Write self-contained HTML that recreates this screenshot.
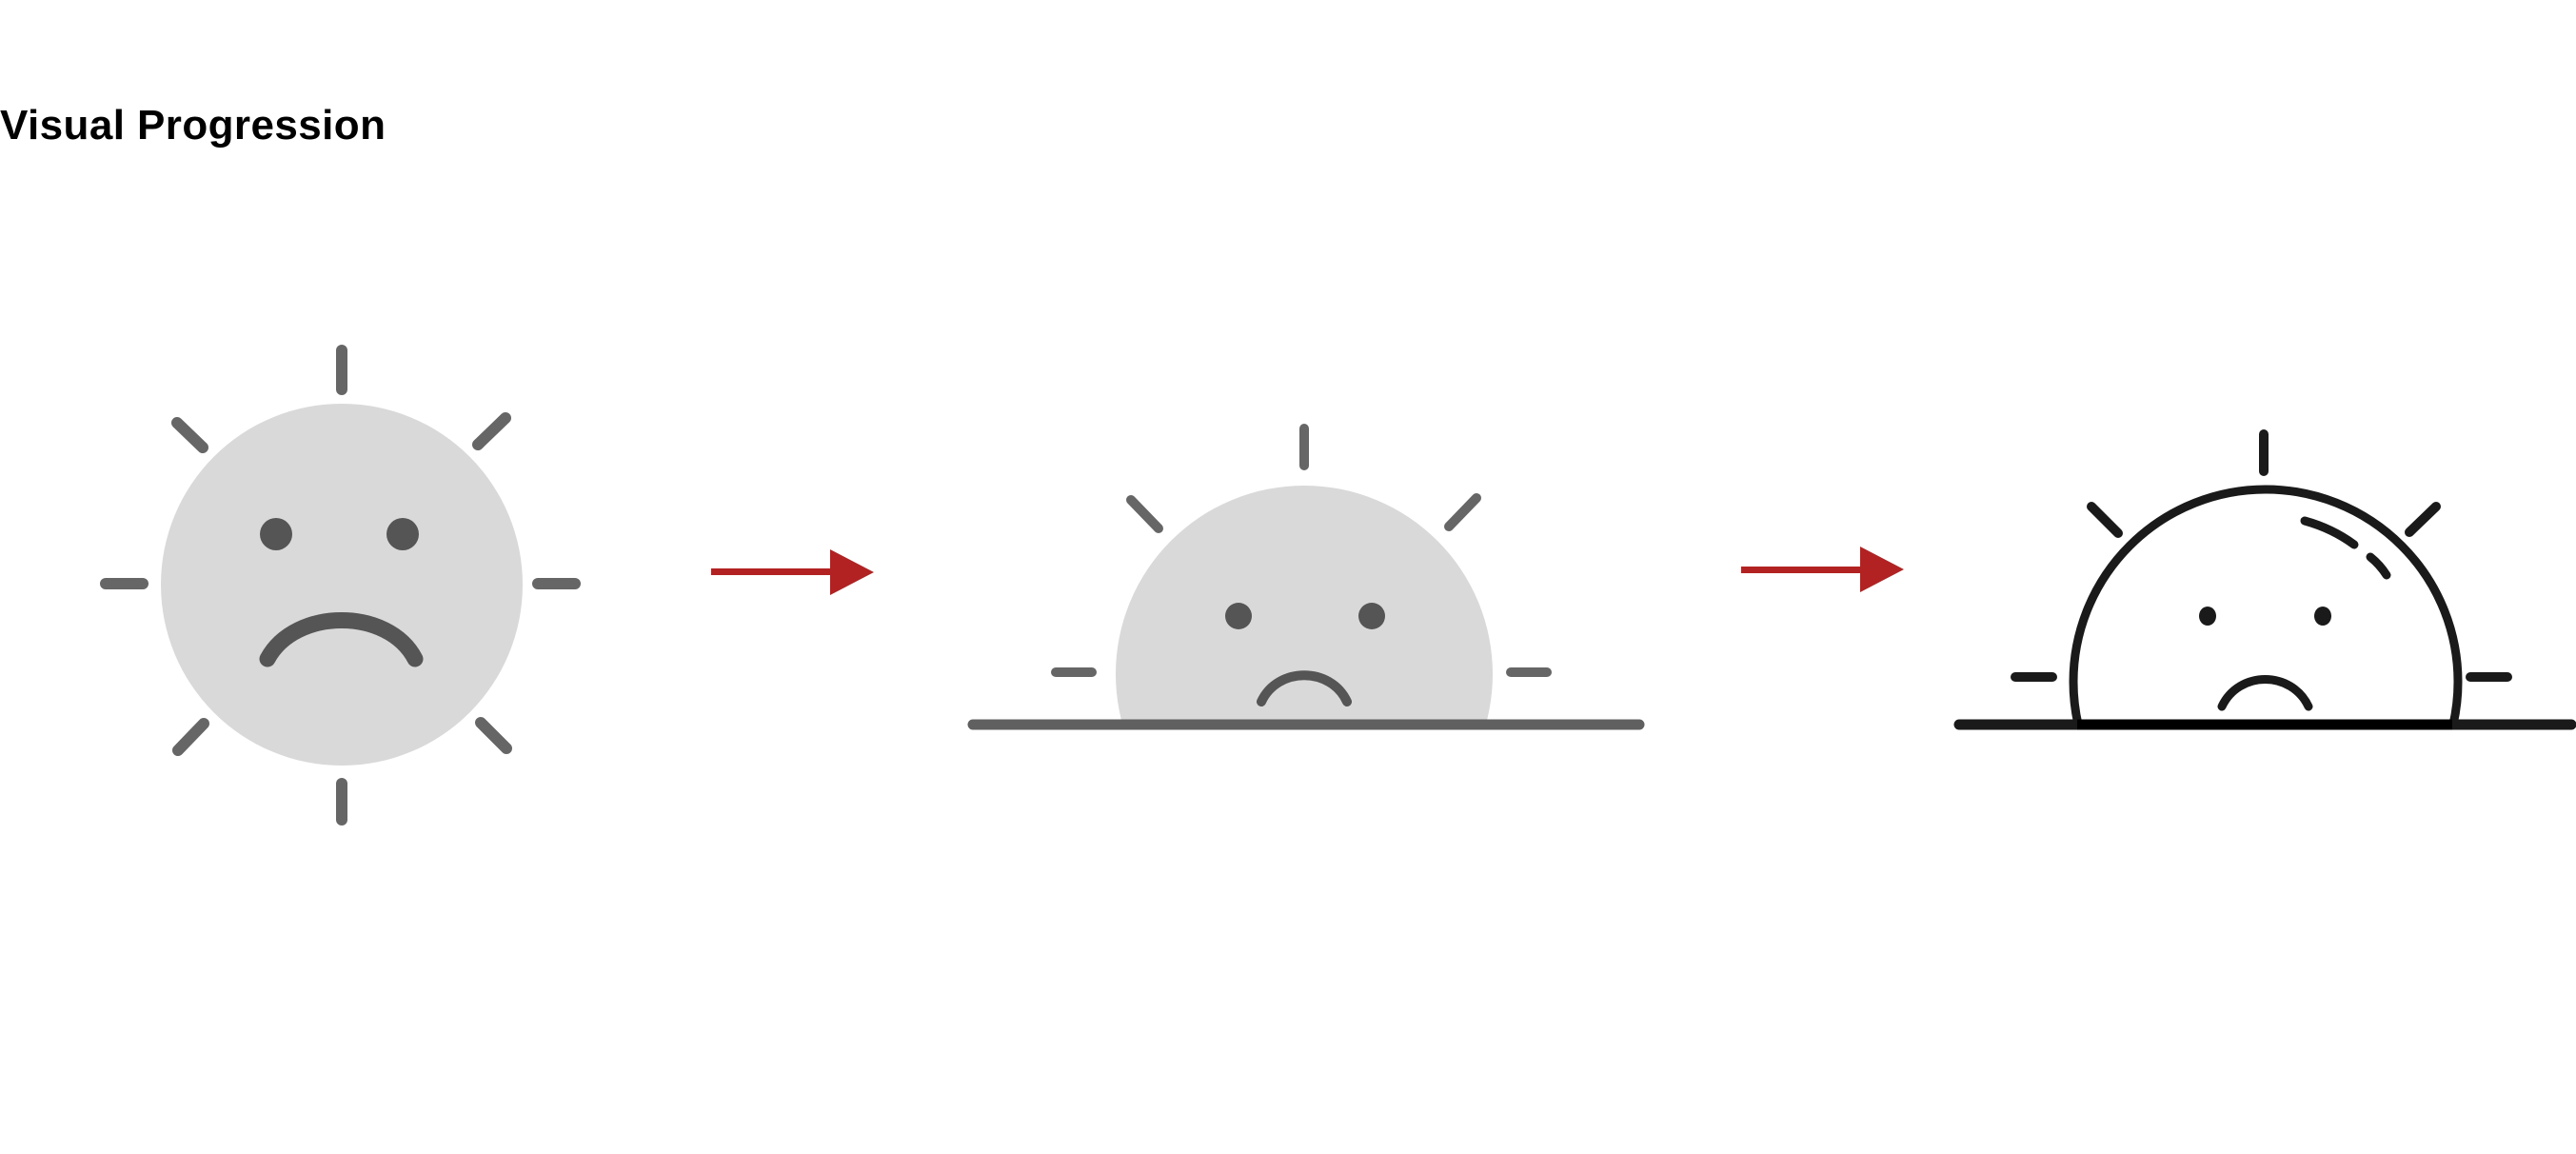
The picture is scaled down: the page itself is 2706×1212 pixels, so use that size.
<!DOCTYPE html>
<html><head><meta charset="utf-8"><style>
html,body{margin:0;padding:0;background:#fff;width:2706px;height:1212px;overflow:hidden}
svg{display:block}
</style></head><body>
<svg width="2706" height="1212" viewBox="0 0 2706 1212">
<text x="0" y="146" font-family="Liberation Sans, sans-serif" font-weight="bold" font-size="44" textLength="405" fill="#000">Visual Progression</text>

<g stroke-linecap="round">
  <circle cx="359" cy="614" r="190" fill="#d9d9d9"/>
  <g stroke="#666" stroke-width="12">
    <line x1="359" y1="368" x2="359" y2="409"/>
    <line x1="359" y1="823" x2="359" y2="861"/>
    <line x1="111" y1="613" x2="150" y2="613"/>
    <line x1="565" y1="613" x2="604" y2="613"/>
    <line x1="186" y1="444" x2="213" y2="470"/>
    <line x1="531" y1="439" x2="502" y2="467"/>
    <line x1="187" y1="788" x2="214" y2="760"/>
    <line x1="505" y1="759" x2="532" y2="786"/>
  </g>
  <circle cx="290" cy="561" r="17" fill="#555"/>
  <circle cx="423" cy="561" r="17" fill="#555"/>
  <path d="M281 692 C310 638, 408 638, 436 692" fill="none" stroke="#555" stroke-width="17"/>
</g>

<g>
  <rect x="747" y="597" width="128" height="7" fill="#b22222"/>
  <polygon points="872,577 918,601 872,625" fill="#b22222"/>
</g>

<g stroke-linecap="round">
  <clipPath id="c2"><rect x="0" y="0" width="2706" height="761"/></clipPath>
  <circle cx="1370" cy="708" r="198" fill="#d9d9d9" clip-path="url(#c2)"/>
  <g stroke="#666" stroke-width="10">
    <line x1="1370" y1="450" x2="1370" y2="489"/>
    <line x1="1188" y1="525" x2="1217" y2="555"/>
    <line x1="1551" y1="523" x2="1522" y2="553"/>
    <line x1="1109" y1="706" x2="1147" y2="706"/>
    <line x1="1587" y1="706" x2="1625" y2="706"/>
  </g>
  <ellipse cx="1301" cy="647" rx="14" ry="14" fill="#555"/>
  <ellipse cx="1441" cy="647" rx="14" ry="14" fill="#555"/>
  <path d="M1325 737 C1342 700, 1398 700, 1415 737" fill="none" stroke="#555" stroke-width="10"/>
  <line x1="1022" y1="761" x2="1722" y2="761" stroke="#606060" stroke-width="11"/>
</g>

<g>
  <rect x="1829" y="595" width="128" height="7" fill="#b22222"/>
  <polygon points="1954,574 2000,598 1954,622" fill="#b22222"/>
</g>

<g stroke-linecap="round">
  <clipPath id="c3"><rect x="0" y="0" width="2706" height="761"/></clipPath>
  <circle cx="2380" cy="716" r="202" fill="none" stroke="#1a1a1a" stroke-width="9" clip-path="url(#c3)"/>
  <g stroke="#1a1a1a" stroke-width="10">
    <line x1="2378" y1="456" x2="2378" y2="495"/>
    <line x1="2197" y1="532" x2="2225" y2="560"/>
    <line x1="2559" y1="532" x2="2531" y2="559"/>
    <line x1="2117" y1="711" x2="2156" y2="711"/>
    <line x1="2595" y1="711" x2="2634" y2="711"/>
  </g>
  <path d="M2421 547 Q2450 555 2473 572" fill="none" stroke="#1a1a1a" stroke-width="9"/>
  <path d="M2490 585 Q2500 593 2507 604" fill="none" stroke="#1a1a1a" stroke-width="9"/>
  <ellipse cx="2319" cy="647" rx="9" ry="10" fill="#1a1a1a"/>
  <ellipse cx="2440" cy="647" rx="9" ry="10" fill="#1a1a1a"/>
  <path d="M2334 742 C2352 704, 2407 704, 2425 742" fill="none" stroke="#1a1a1a" stroke-width="9"/>
  <line x1="2058" y1="761" x2="2701" y2="761" stroke="#1a1a1a" stroke-width="11"/>
  <line x1="2182" y1="761" x2="2576" y2="761" stroke="#000" stroke-width="11" stroke-linecap="butt"/>
</g>
</svg>
</body></html>
